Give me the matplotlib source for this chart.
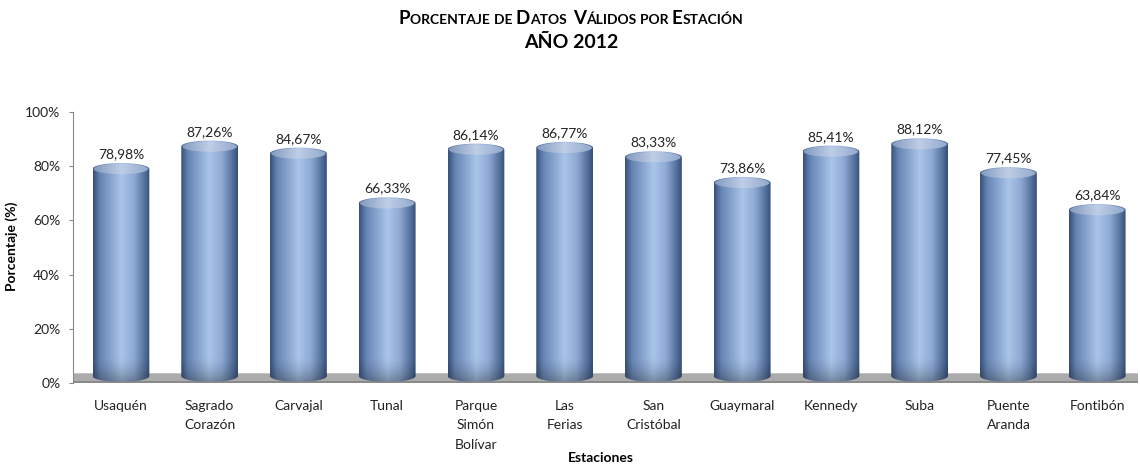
import numpy as np
import matplotlib
matplotlib.use('Agg')
import matplotlib.pyplot as plt
from matplotlib.path import Path
from matplotlib.patches import PathPatch, Ellipse
from matplotlib.colors import LinearSegmentedColormap
from matplotlib.ticker import PercentFormatter

plt.rcParams['font.family'] = ['Lato', 'DejaVu Sans']

# data
estaciones = ['Usaquén', 'Sagrado\nCorazón', 'Carvajal', 'Tunal', 'Parque\nSimón\nBolívar',
              'Las\nFerias', 'San\nCristóbal', 'Guaymaral', 'Kennedy', 'Suba',
              'Puente\nAranda', 'Fontibón']
porcentaje = [0.7898, 0.8726, 0.8467, 0.6633, 0.8614, 0.8677,
              0.8333, 0.7386, 0.8541, 0.8812, 0.7745, 0.6384]
etiquetas = ['78,98%', '87,26%', '84,67%', '66,33%', '86,14%', '86,77%',
             '83,33%', '73,86%', '85,41%', '88,12%', '77,45%', '63,84%']

fig = plt.figure(figsize=(11.4, 4.66), dpi=100)
ax = fig.add_axes([73 / 1140, 83 / 466, 1065 / 1140, 271 / 466])

x = np.arange(len(estaciones))
ancho = 0.64
h = 0.022  # half height of the ellipses (data units)

ax.set_xlim(-0.54, len(estaciones) - 0.54)
ax.set_ylim(0, 1)

# floor
ax.axhspan(0, 0.038, color='#ababab', zorder=1, lw=0)
ax.axhspan(0.033, 0.038, color='#c4c4c4', zorder=1, lw=0)
ax.axhspan(0, 0.007, color='#8a8a8a', zorder=1, lw=0)

cuerpo = LinearSegmentedColormap.from_list('cuerpo', [
    (0.0, '#38507a'), (0.12, '#6584b3'), (0.5, '#a9c5ea'),
    (0.72, '#8eaad4'), (0.9, '#56739f'), (1.0, '#36507a')])
tapa = LinearSegmentedColormap.from_list('tapa', [
    (0.0, '#8299bd'), (0.5, '#bfcee6'), (1.0, '#90a7cb')])

bars = ax.bar(x, porcentaje, width=ancho, color='none', zorder=2)

for rect, v, lab in zip(bars, porcentaje, etiquetas):
    x0 = rect.get_x()
    x1 = x0 + rect.get_width()
    xc = (x0 + x1) / 2
    b = 0.026
    t = np.linspace(np.pi, 2 * np.pi, 40)
    bot = np.column_stack([xc + (ancho / 2) * np.cos(t), b + h * np.sin(t)])
    t2 = np.linspace(0, np.pi, 40)
    top = np.column_stack([xc + (ancho / 2) * np.cos(t2), v + h * np.sin(t2)])
    verts = np.vstack([bot, top, bot[:1]])
    clip = PathPatch(Path(verts), transform=ax.transData, facecolor='none', edgecolor='none')
    ax.add_patch(clip)
    gx = np.linspace(0, 1, 200)
    grad = gx[None, :] * np.ones((4, 1))
    im = ax.imshow(grad, cmap=cuerpo, extent=[x0, x1, b - h, v + h], origin='lower',
                   aspect='auto', zorder=3, interpolation='bilinear')
    im.set_clip_path(clip)
    # darker shade near bottom
    alto = v + 2 * h - b
    yy = np.linspace(0, alto, 200)
    sombra = np.zeros((200, 2, 4))
    sombra[..., :3] = 0.12
    sombra[..., 3] = (np.clip(1 - yy / 0.09, 0, 1) ** 1.5 * 0.35)[:, None]
    im2 = ax.imshow(sombra, extent=[x0, x1, b - h, v + h], origin='lower',
                    aspect='auto', zorder=4, interpolation='bilinear')
    im2.set_clip_path(clip)
    # top face
    el = Ellipse((xc, v), ancho * 0.96, 2 * h * 0.88, facecolor='none', edgecolor='none',
                 transform=ax.transData)
    ax.add_patch(el)
    im3 = ax.imshow(gx[None, :] * np.ones((4, 1)), cmap=tapa,
                    extent=[x0, x1, v - h, v + h], origin='lower', aspect='auto',
                    zorder=5, interpolation='bilinear')
    im3.set_clip_path(el)
    ax.annotate(lab, (xc, v + h), xytext=(0, 2), textcoords='offset points',
                ha='center', va='bottom', fontsize=10, color='#222222')

ax.set_xlim(-0.54, len(estaciones) - 0.54)
ax.set_ylim(0, 1)
ax.set_xticks(x)
ax.set_xticklabels(estaciones, fontsize=10, linespacing=1.75, color='#222222')
ax.set_yticks(np.arange(0, 1.01, 0.2))
ax.yaxis.set_major_formatter(PercentFormatter(1.0, decimals=0))
ax.tick_params(axis='x', length=0, pad=12)
ax.tick_params(axis='y', length=3, width=0.8, color='#888888', pad=6, labelsize=10,
               labelcolor='#222222')
for s in ['top', 'right', 'bottom']:
    ax.spines[s].set_visible(False)
ax.spines['left'].set_color('#888888')
ax.spines['left'].set_linewidth(0.8)

ax.set_ylabel('Porcentaje (%)', fontsize=10, fontweight='bold')
ax.yaxis.set_label_coords(-0.052, 0.505)
fig.text(601, 466 - 462, 'Estaciones', fontsize=10, fontweight='bold',
         ha='center', va='baseline', transform=None)

# title with small caps
piezas = [('P', 13.5), ('ORCENTAJE ', 10), ('DE ', 10), ('D', 13.5), ('ATOS  ', 10),
          ('V', 13.5), ('ÁLIDOS ', 10), ('POR ', 10), ('E', 13.5), ('STACIÓN', 10)]
renderer = fig.canvas.get_renderer()
textos = []
for s, fs in piezas:
    tx = fig.text(0, 0, s, fontsize=fs, fontweight='bold', va='baseline', ha='left',
                  transform=None)
    textos.append(tx)
anchos = [tx.get_window_extent(renderer).width for tx in textos]
total = sum(anchos)
xpos = 571 - total / 2
for tx, w in zip(textos, anchos):
    tx.set_position((xpos, 466 - 24))
    xpos += w
fig.text(571, 466 - 48, 'AÑO 2012', fontsize=14, fontweight='bold', ha='center',
         va='baseline', transform=None)

fig.savefig('out.png', dpi=100)
